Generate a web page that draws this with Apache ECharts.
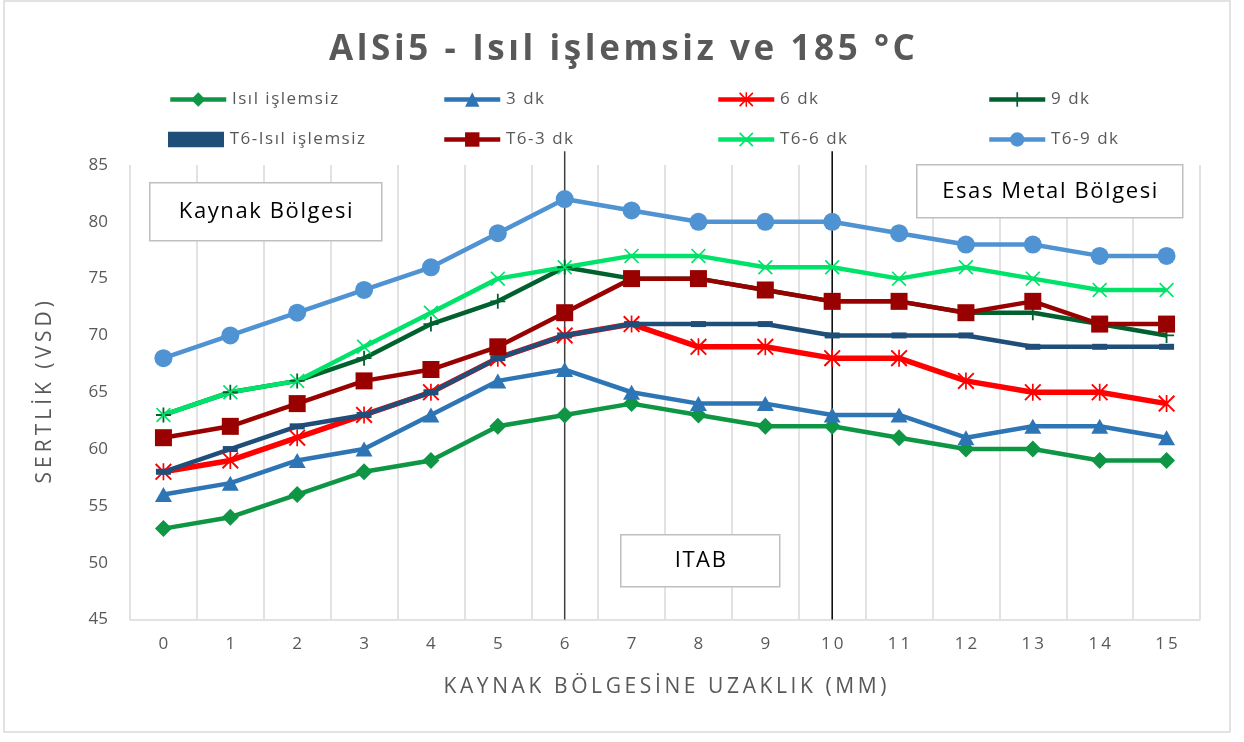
<!DOCTYPE html>
<html>
<head>
<meta charset="utf-8">
<title>AlSi5 - Isıl işlemsiz ve 185 °C</title>
<script src="https://cdn.jsdelivr.net/npm/echarts@6/dist/echarts.min.js"></script>
<style>
  html, body { margin: 0; padding: 0; background: #ffffff; }
  #chart { width: 1244px; height: 742px; }
</style>
</head>
<body>
<div id="chart"></div>
<script>
// Distance from the weld (mm)
const distances = ['0', '1', '2', '3', '4', '5', '6', '7', '8', '9', '10', '11', '12', '13', '14', '15'];

// Hardness (VSD) per condition
const isilIslemsiz   = [53, 54, 56, 58, 59, 62, 63, 64, 63, 62, 62, 61, 60, 60, 59, 59];
const dk3            = [56, 57, 59, 60, 63, 66, 67, 65, 64, 64, 63, 63, 61, 62, 62, 61];
const dk6            = [58, 59, 61, 63, 65, 68, 70, 71, 69, 69, 68, 68, 66, 65, 65, 64];
const dk9            = [63, 65, 66, 68, 71, 73, 76, 75, 75, 74, 73, 73, 72, 72, 71, 70];
const t6IsilIslemsiz = [58, 60, 62, 63, 65, 68, 70, 71, 71, 71, 70, 70, 70, 69, 69, 69];
const t6Dk3          = [61, 62, 64, 66, 67, 69, 72, 75, 75, 74, 73, 73, 72, 73, 71, 71];
const t6Dk6          = [63, 65, 66, 69, 72, 75, 76, 77, 77, 76, 76, 75, 76, 75, 74, 74];
const t6Dk9          = [68, 70, 72, 74, 76, 79, 82, 81, 80, 80, 80, 79, 78, 78, 77, 77];

const seriesNames = ['Isıl işlemsiz', '3 dk', '6 dk', '9 dk', 'T6-Isıl işlemsiz', 'T6-3 dk', 'T6-6 dk', 'T6-9 dk'];

// Zone boundaries (distance index) and zone labels
const zoneLines = [6, 10];
const zoneLabels = ['Kaynak Bölgesi', 'ITAB', 'Esas Metal Bölgesi'];

const titleText = 'AlSi5 - Isıl işlemsiz ve 185 °C';
const xName = 'KAYNAK BÖLGESİNE UZAKLIK (MM)';
const yName = 'SERTLİK (VSD)';

const FONT = '"Open Sans", "Noto Sans", sans-serif';
const GREY = '#595959';

// Wraps every character in a rich-text token so the tokens' padding
// gives the text a wider letter spacing.
function spaced(str, key) {
  return str.split('').map(function (c) { return '{' + key + '|' + c + '}'; }).join('');
}
function richStyle(size, color, gap, weight) {
  return {
    fontFamily: FONT, fontSize: size, color: color,
    fontWeight: weight || 'normal',
    padding: [0, gap / 2, 0, gap / 2]
  };
}

// Marker outlines built from thin bars
const PLUS = 'path://M44,0 L56,0 L56,100 L44,100 Z M0,44 L100,44 L100,56 L0,56 Z';
const CROSS = 'path://M8,0 L100,92 L92,100 L0,8 Z M92,0 L100,8 L8,100 L0,92 Z';
const STAR = 'path://M8,0 L100,92 L92,100 L0,8 Z M92,0 L100,8 L8,100 L0,92 Z M45,0 L55,0 L55,100 L45,100 Z';
const DASH = 'path://M0,0 L100,0 L100,40 L0,40 Z';
const DASH_LEGEND = 'path://M0,36 L100,36 L100,64 L0,64 Z';

function line(name, data, color, symbol, size, width) {
  return {
    name: name,
    type: 'line',
    data: data,
    symbol: symbol,
    symbolSize: size,
    showAllSymbol: true,
    lineStyle: { color: color, width: width || 4.5 },
    itemStyle: { color: color, borderWidth: 0 },
    emphasis: { disabled: true },
    z: 3
  };
}

const series = [
  line(seriesNames[0], isilIslemsiz, '#0E9645', 'diamond', 17),
  line(seriesNames[1], dk3, '#2E75B6', 'triangle', [17, 15]),
  line(seriesNames[2], dk6, '#FF0000', STAR, 17, 5.5),
  line(seriesNames[3], dk9, '#00612E', PLUS, 15),
  line(seriesNames[4], t6IsilIslemsiz, '#1F4E79', DASH, [15, 6]),
  line(seriesNames[5], t6Dk3, '#990000', 'rect', 17),
  line(seriesNames[6], t6Dk6, '#00E36B', CROSS, 15),
  line(seriesNames[7], t6Dk9, '#4F93D2', 'circle', 18)
];

// Two legend rows of four fixed columns
const legendCols = [168, 442, 716, 987];
const legendRows = [91, 131];
const legends = seriesNames.map(function (n, i) {
  const item = { name: n };
  if (i === 4) item.icon = DASH_LEGEND;
  return {
    data: [item],
    left: legendCols[i % 4],
    top: legendRows[Math.floor(i / 4)],
    padding: 0,
    itemWidth: 56,
    itemHeight: 18,
    selectedMode: false,
    lineStyle: { width: 4.5 },
    formatter: function (name) { return spaced(name, 'l'); },
    textStyle: {
      fontFamily: FONT, fontSize: 17, color: GREY,
      rich: { l: richStyle(17, GREY, 1.5) }
    }
  };
});

function labelBox(x, y, w, h, text) {
  return {
    type: 'group',
    left: x, top: y,
    children: [
      { type: 'rect', shape: { x: 0, y: 0, width: w, height: h },
        style: { fill: '#ffffff', stroke: '#BFBFBF', lineWidth: 1.5 }, z: 10 },
      { type: 'text', x: w / 2, y: h / 2,
        style: {
          text: spaced(text, 'b'),
          rich: { b: { fontFamily: FONT, fontSize: 22, fill: '#000000', padding: [0, 0.8, 0, 0.8] } },
          fill: '#000000', font: '22px ' + FONT, align: 'center', verticalAlign: 'middle'
        }, z: 11 }
    ]
  };
}

const chart = echarts.init(document.getElementById('chart'), null, { renderer: 'canvas' });

chart.setOption({
  animation: false,
  backgroundColor: '#ffffff',
  title: {
    text: spaced(titleText, 't'),
    left: 'center',
    top: 28,
    textStyle: {
      fontFamily: FONT, fontWeight: 'bold', fontSize: 35, color: GREY,
      rich: { t: richStyle(35, GREY, 3.6, 'bold') }
    }
  },
  legend: legends,
  grid: { left: 130, right: 44, top: 165, bottom: 122.5, outerBoundsMode: 'none', containLabel: false },
  xAxis: {
    type: 'category',
    data: distances,
    boundaryGap: true,
    name: spaced(xName, 'n'),
    nameLocation: 'middle',
    nameGap: 57,
    nameTextStyle: {
      fontFamily: FONT, fontSize: 21, color: GREY,
      rich: { n: richStyle(21, GREY, 3.6) }
    },
    axisLine: { show: true, lineStyle: { color: '#D9D9D9', width: 1.5 } },
    axisTick: { show: false },
    axisLabel: {
      interval: 0,
      margin: 16,
      formatter: function (v) { return spaced(v, 'd'); },
      fontFamily: FONT, fontSize: 17, color: GREY,
      rich: { d: richStyle(17, GREY, 3) }
    },
    splitLine: { show: true, interval: 0, lineStyle: { color: '#D9D9D9', width: 1.5 } }
  },
  yAxis: {
    type: 'value',
    min: 45,
    max: 85,
    interval: 5,
    name: spaced(yName, 'n'),
    nameLocation: 'middle',
    nameGap: 74,
    nameTextStyle: {
      fontFamily: FONT, fontSize: 21, color: GREY,
      rich: { n: richStyle(21, GREY, 4) }
    },
    axisLine: { show: false },
    axisTick: { show: false },
    axisLabel: { margin: 22, fontFamily: FONT, fontSize: 17, color: GREY },
    splitLine: { show: false }
  },
  series: series
});

// Frame, zone boundary lines and zone captions
const graphics = [
  { type: 'rect', shape: { x: 4, y: 1, width: 1226, height: 731 },
    style: { fill: 'none', stroke: '#D9D9D9', lineWidth: 1.5 }, z: 0, silent: true }
];
const lineColors = ['#404040', '#000000'];
zoneLines.forEach(function (xv, i) {
  const bottom = chart.convertToPixel({ xAxisIndex: 0, yAxisIndex: 0 }, [xv, 45]);
  const top = chart.convertToPixel({ xAxisIndex: 0, yAxisIndex: 0 }, [xv, 86.2]);
  graphics.push({
    type: 'line',
    shape: { x1: bottom[0], y1: top[1], x2: bottom[0], y2: bottom[1] },
    style: { stroke: lineColors[i], lineWidth: 1.5 },
    z: 2, silent: true
  });
});
graphics.push(labelBox(149, 182, 232, 58, zoneLabels[0]));
graphics.push(labelBox(620, 534, 159, 52, zoneLabels[1]));
graphics.push(labelBox(916, 164, 266, 53, zoneLabels[2]));

chart.setOption({ graphic: graphics });
</script>
</body>
</html>
